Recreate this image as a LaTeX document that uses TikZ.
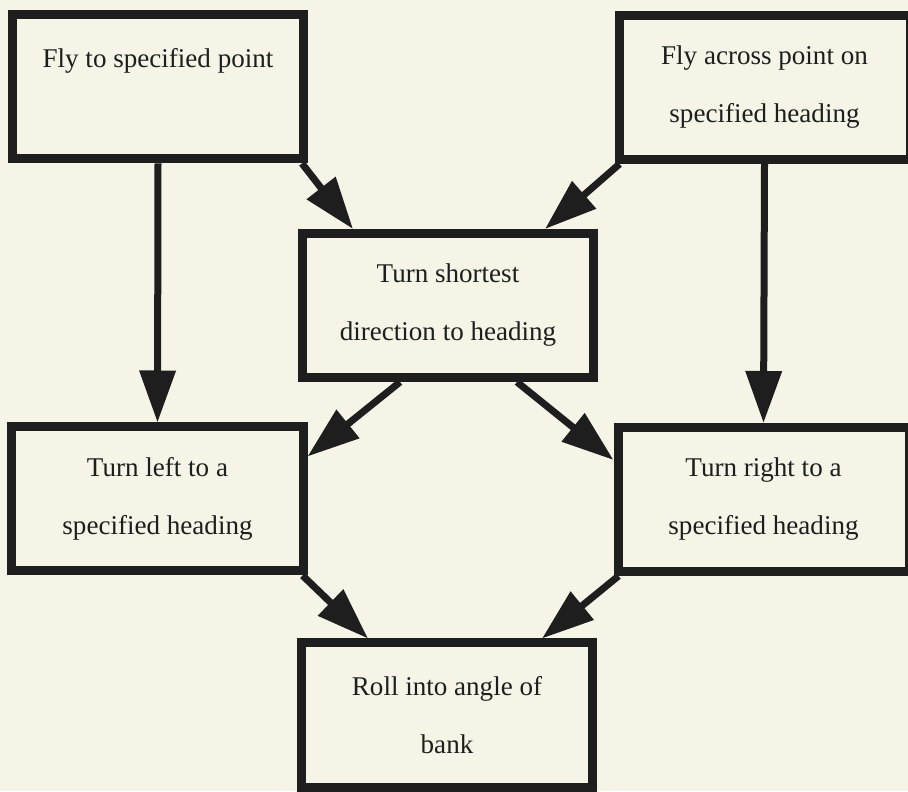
\documentclass[tikz,border=0pt]{standalone}
\usepackage{fontspec}
\setmainfont{Liberation Serif}
\usetikzlibrary{arrows.meta}
\definecolor{paper}{HTML}{F5F4E7}
\definecolor{ink}{HTML}{1E1E1E}

\begin{document}
\begin{tikzpicture}[
    box/.style={draw=ink, line width=0.18cm, minimum width=5.82cm,
      minimum height=2.88cm, inner sep=0pt, align=center, text=ink,
      font=\fontsize{15.4}{33}\selectfont},
    flow/.style={draw=ink, line width=0.14cm,
      -{Triangle[length=1.04cm,width=0.7cm]}}]
  \fill[paper] (0,0) rectangle (18.16,15.82);
  \useasboundingbox (0,0) rectangle (18.16,15.82);
  \node[box] (point) at (3.16,14.08) {Fly to specified point\\ \mbox{}};
  \node[box] (across) at (15.29,14.07) {Fly across point on\\ specified heading};
  \node[box] (shortest) at (8.96,9.71) {Turn shortest\\ direction to heading};
  \node[box] (left) at (3.15,5.84) {Turn left to a\\ specified heading};
  \node[box] (right) at (15.27,5.83) {Turn right to a\\ specified heading};
  \node[box] (roll) at (8.94,1.52) {Roll into angle of\\ bank};
  \draw[flow] (point.south) -- (left.north);
  \draw[flow] (across.south) -- (right.north);
  \draw[flow] ([xshift=-0.12cm]point.south east) -- ([xshift=1.1cm]shortest.north west);
  \draw[flow] ([xshift=0.1cm]across.south west) -- ([xshift=-1.06cm]shortest.north east);
  \draw[flow] ([xshift=2.04cm]shortest.south west) -- ([yshift=-0.68cm]left.north east);
  \draw[flow] ([xshift=-1.62cm]shortest.south east) -- ([yshift=-0.74cm]right.north west);
  \draw[flow] ([xshift=-0.1cm]left.south east) -- ([xshift=1.42cm]roll.north west);
  \draw[flow] ([xshift=0.1cm]right.south west) -- ([xshift=-1.1cm]roll.north east);
\end{tikzpicture}
\end{document}
